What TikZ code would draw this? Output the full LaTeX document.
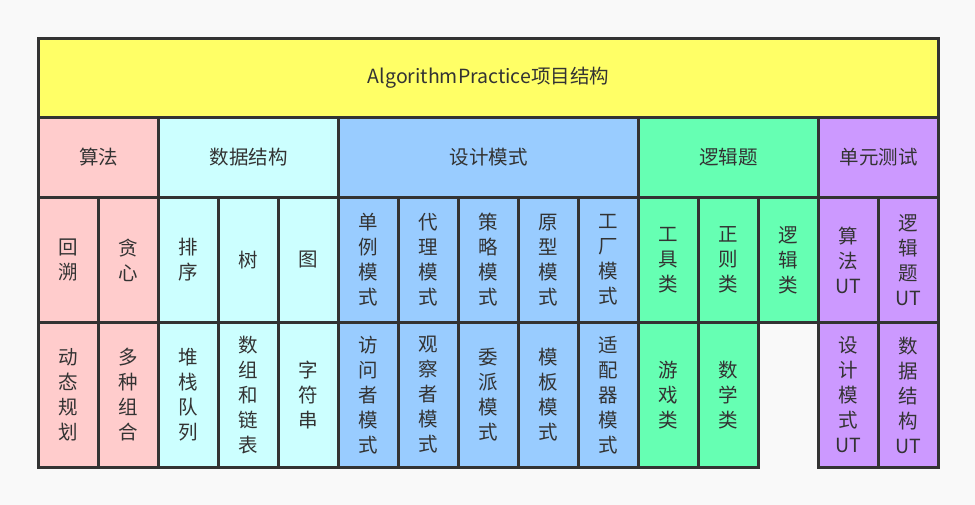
\documentclass[tikz,border=0pt]{standalone}
\usepackage{fontspec}
\newfontfamily\cjk{Noto Sans CJK SC}
\usetikzlibrary{positioning}

\definecolor{bgc}{HTML}{F9F9F9}
\definecolor{edgec}{HTML}{333333}
\definecolor{titlec}{HTML}{FFFF66}
\definecolor{algc}{HTML}{FFCCCC}
\definecolor{dsc}{HTML}{CCFFFF}
\definecolor{dpc}{HTML}{99CCFF}
\definecolor{logc}{HTML}{66FFB3}
\definecolor{utc}{HTML}{CC99FF}

\begin{document}
\begin{tikzpicture}[
  x=1pt, y=-1pt,
  cell/.style={draw=edgec, line width=3pt, anchor=north west, inner sep=0pt,
    font=\cjk\fontsize{19.5}{25}\selectfont, text=edgec, align=center,
    minimum width=60pt, fill=#1},
  head/.style={cell=#1, minimum height=80pt},
  upper/.style={cell=#1, minimum height=125pt},
  lower/.style={cell=#1, minimum height=145pt},
]

% background
\fill[bgc] (0,0) rectangle (975,505);
\useasboundingbox (0,0) rectangle (975,505);

% === Title ===
\node[cell=titlec, minimum width=900pt, minimum height=79pt] (title) at (37,37)
  {AlgorithmPractice项目结构};

% === Group headers ===
\node[head=algc, minimum width=120pt] (alg) at (37,116) {算法};
\node[head=dsc, minimum width=180pt] (ds) at (157,116) {数据结构};
\node[head=dpc, minimum width=300pt] (dp) at (337,116) {设计模式};
\node[head=logc, minimum width=180pt] (logic) at (637,116) {逻辑题};
\node[head=utc, minimum width=120pt] (ut) at (817,116) {单元测试};

% === Upper row ===
\node[upper=algc] (backtrack) at (37,196) {回\\溯};
\node[upper=algc] (greedy) at (97,196) {贪\\心};
\node[upper=dsc] (sort) at (157,196) {排\\序};
\node[upper=dsc] (tree) at (217,196) {树};
\node[upper=dsc] (graph) at (277,196) {图};
\node[upper=dpc] (singleton) at (337,196) {单\\例\\模\\式};
\node[upper=dpc] (proxy) at (397,196) {代\\理\\模\\式};
\node[upper=dpc] (strategy) at (457,196) {策\\略\\模\\式};
\node[upper=dpc] (prototype) at (517,196) {原\\型\\模\\式};
\node[upper=dpc] (factory) at (577,196) {工\\厂\\模\\式};
\node[upper=logc] (tools) at (637,196) {工\\具\\类};
\node[upper=logc] (regex) at (697,196) {正\\则\\类};
\node[upper=logc] (logical) at (757,196) {逻\\辑\\类};
\node[upper=utc] (algut) at (817,196) {算\\法\\UT};
\node[upper=utc] (logut) at (877,196) {逻\\辑\\题\\UT};

% === Lower row ===
\node[lower=algc] (dynprog) at (37,321) {动\\态\\规\\划};
\node[lower=algc] (combine) at (97,321) {多\\种\\组\\合};
\node[lower=dsc] (stack) at (157,321) {堆\\栈\\队\\列};
\node[lower=dsc] (arrlist) at (217,321) {数\\组\\和\\链\\表};
\node[lower=dsc] (string) at (277,321) {字\\符\\串};
\node[lower=dpc] (visitor) at (337,321) {访\\问\\者\\模\\式};
\node[lower=dpc] (observer) at (397,321) {观\\察\\者\\模\\式};
\node[lower=dpc] (delegate) at (457,321) {委\\派\\模\\式};
\node[lower=dpc] (template) at (517,321) {模\\板\\模\\式};
\node[lower=dpc] (adapter) at (577,321) {适\\配\\器\\模\\式};
\node[lower=logc] (game) at (637,321) {游\\戏\\类};
\node[lower=logc] (math) at (697,321) {数\\学\\类};
\node[lower=utc] (dput) at (817,321) {设\\计\\模\\式\\UT};
\node[lower=utc] (dsut) at (877,321) {数\\据\\结\\构\\UT};

\end{tikzpicture}
\end{document}
